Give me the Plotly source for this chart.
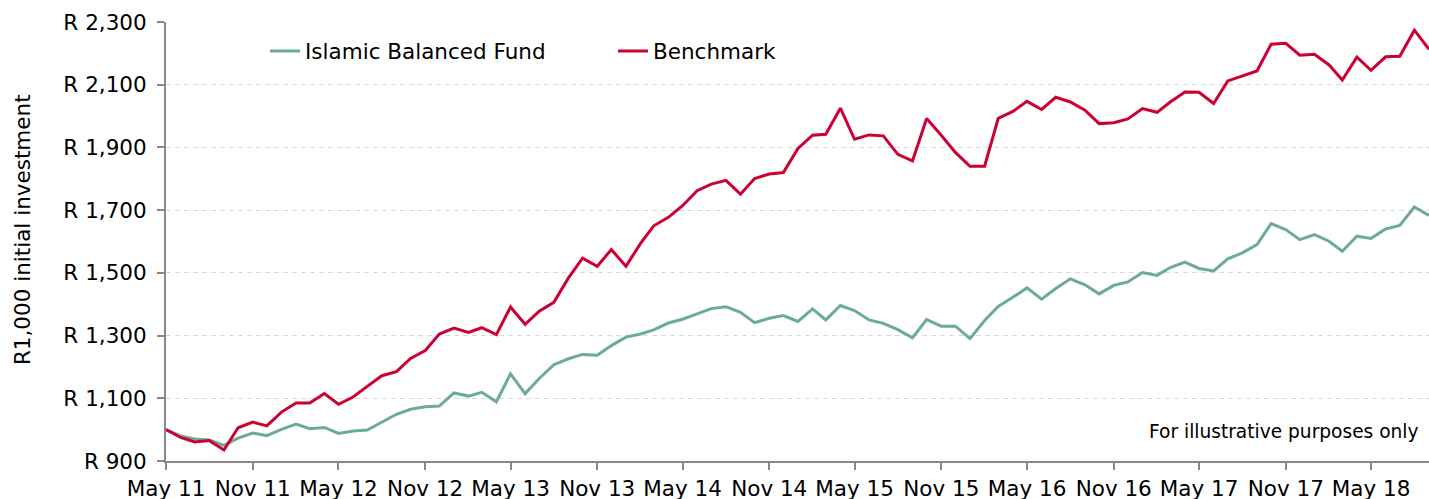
import pandas as pd
import plotly.graph_objects as go

# ---- data (monthly, May 2011 - Sep 2018), value of R1,000 initial investment ----
months = pd.date_range("2011-05-01", periods=89, freq="MS")

fund = [1000, 980, 970, 967, 950, 973, 989, 981, 1001, 1018,
        1003, 1007, 988, 996, 999, 1025, 1049, 1065, 1073, 1075,
        1117, 1107, 1119, 1089, 1178, 1115, 1163, 1207, 1226, 1240,
        1237, 1268, 1295, 1305, 1318, 1340, 1352, 1369, 1386, 1392,
        1374, 1341, 1355, 1364, 1345, 1385, 1350, 1396, 1380, 1350,
        1339, 1319, 1293, 1351, 1330, 1330, 1290, 1348, 1393, 1422,
        1452, 1416, 1450, 1481, 1462, 1433, 1460, 1471, 1501, 1492,
        1517, 1534, 1514, 1506, 1545, 1564, 1590, 1657, 1638, 1606,
        1622, 1601, 1569, 1617, 1610, 1640, 1651, 1710, 1683]

benchmark = [1000, 975, 961, 965, 935, 1006, 1024, 1012, 1056, 1085,
             1085, 1115, 1081, 1104, 1138, 1172, 1185, 1227, 1252, 1305,
             1324, 1310, 1325, 1303, 1391, 1336, 1378, 1406, 1484, 1547,
             1521, 1574, 1521, 1594, 1650, 1677, 1714, 1762, 1783, 1795,
             1751, 1801, 1815, 1820, 1897, 1939, 1942, 2025, 1926, 1940,
             1937, 1878, 1857, 1992, 1939, 1884, 1840, 1840, 1993, 2015,
             2047, 2021, 2060, 2045, 2019, 1976, 1979, 1991, 2024, 2012,
             2045, 2077, 2076, 2040, 2112, 2128, 2144, 2229, 2232, 2194,
             2197, 2163, 2115, 2188, 2146, 2189, 2191, 2274, 2213]

series_names = ["Islamic Balanced Fund", "Benchmark"]

x_tick_dates = pd.date_range("2011-05-01", "2018-05-01", freq="6MS")
x_tick_labels = ["May 11", "Nov 11", "May 12", "Nov 12", "May 13", "Nov 13",
                 "May 14", "Nov 14", "May 15", "Nov 15", "May 16", "Nov 16",
                 "May 17", "Nov 17", "May 18"]

y_tick_vals = [900, 1100, 1300, 1500, 1700, 1900, 2100, 2300]
y_tick_labels = ["R 900", "R 1,100", "R 1,300", "R 1,500", "R 1,700",
                 "R 1,900", "R 2,100", "R 2,300"]

FONT = "DejaVu Sans, Verdana, sans-serif"
FS = 21.5
GREEN = "#6AAB9A"
RED = "#CC0033"

fig = go.Figure()
fig.add_trace(go.Scatter(x=months, y=fund, mode="lines", name=series_names[0],
                         line=dict(color=GREEN, width=3)))
fig.add_trace(go.Scatter(x=months, y=benchmark, mode="lines", name=series_names[1],
                         line=dict(color=RED, width=3)))

fig.update_layout(
    width=1429, height=499,
    margin=dict(l=166, r=0, t=22, b=38),
    paper_bgcolor="white", plot_bgcolor="white",
    font=dict(family=FONT, size=FS, color="#000000"),
    showlegend=True,
    legend=dict(orientation="h", x=0.0784, xanchor="left", y=0.934, yanchor="middle",
                font=dict(family=FONT, size=FS, color="#000000"),
                bgcolor="rgba(0,0,0,0)", entrywidth=303, entrywidthmode="pixels"),
    annotations=[
        dict(text="For illustrative purposes only", xref="paper", yref="paper",
             x=0.9937, y=0.0683, xanchor="right", yanchor="middle",
             showarrow=False, font=dict(family=FONT, size=18.6, color="#000000")),
        dict(text="R1,000 initial investment", xref="paper", yref="paper",
             x=-0.1140, y=0.526, xanchor="center", yanchor="middle", textangle=-90,
             showarrow=False, font=dict(family=FONT, size=FS, color="#000000")),
    ],
)

fig.update_xaxes(
    type="date", range=[months[0], months[-1]],
    tickmode="array", tickvals=x_tick_dates, ticktext=x_tick_labels,
    ticks="outside", ticklen=7, tickwidth=2, tickcolor="#888888",
    ticklabelstandoff=0, automargin=False,
    showline=True, linecolor="#888888", linewidth=2,
    showgrid=False, zeroline=False,
    tickfont=dict(family=FONT, size=FS, color="#000000"),
)
fig.update_yaxes(
    range=[900, 2300],
    tickmode="array", tickvals=y_tick_vals, ticktext=y_tick_labels,
    ticks="outside", ticklen=7, tickwidth=2, tickcolor="#888888",
    ticklabelstandoff=6, automargin=False,
    showline=True, linecolor="#888888", linewidth=2,
    showgrid=True, gridcolor="#D9D9D9", gridwidth=1, griddash="5px,4px",
    zeroline=False,
    tickfont=dict(family=FONT, size=FS, color="#000000"),
)

fig.write_html(
    "out.html",
    config={"displayModeBar": False},
    post_script="document.body.style.margin='0';document.body.style.overflow='hidden';",
)
